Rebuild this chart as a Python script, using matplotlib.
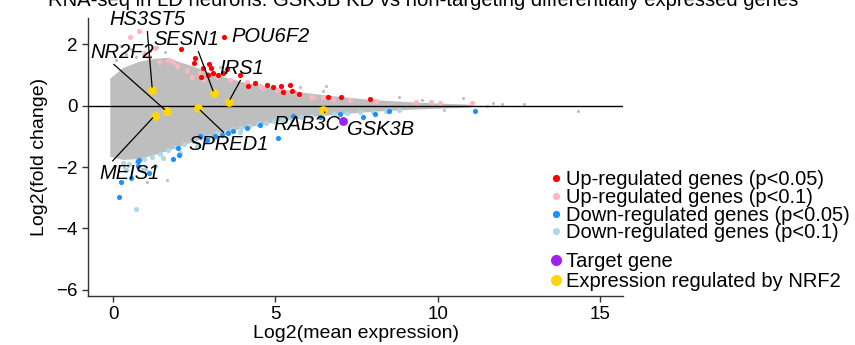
import matplotlib
matplotlib.use("Agg")

import matplotlib.pyplot as plt
from matplotlib.lines import Line2D

plt.rcParams["font.family"] = ["Liberation Sans", "DejaVu Sans"]

# --------------------------------------------------------------------------- #
# Data
# --------------------------------------------------------------------------- #

TITLE = "RNA-seq in LD neurons: GSK3B KD vs non-targeting differentially expressed genes"

# envelope of the dense grey cloud of non-significant genes
cloud_x = [-0.1, 0.3, 0.8, 1.3, 1.7, 2.0, 2.5, 3.0, 3.5, 4.0, 4.5, 5.0, 5.5,
           6.0, 6.5, 7.0, 7.5, 8.0, 8.5, 9.0, 9.5, 10.0, 10.5, 11.0]
cloud_top = [0.9, 1.25, 1.45, 1.55, 1.58, 1.45, 1.28, 1.08, 0.92, 0.78, 0.68,
             0.58, 0.5, 0.42, 0.36, 0.3, 0.25, 0.2, 0.17, 0.14, 0.11, 0.09,
             0.07, 0.05]
cloud_bot = [-1.65, -1.75, -1.72, -1.58, -1.45, -1.33, -1.15, -0.98, -0.85,
             -0.72, -0.62, -0.52, -0.44, -0.37, -0.31, -0.26, -0.22, -0.18,
             -0.15, -0.12, -0.1, -0.08, -0.06, -0.04]

# scattered grey genes outside the dense cloud
grey_x = [0.1, 0.25, 0.4, 0.55, 0.7, 0.95, 1.15, 1.35, 1.6, 1.06, 0.35, 0.9,
          1.66, 0.45, 2.5, 3.3, 5.75, 6.57, 6.46, 8.8, 9.5, 10.2, 10.78, 11.5,
          11.7, 11.97, 12.65, 14.3]
grey_y = [1.5, 1.95, 1.7, 1.85, 1.6, 1.75, 1.8, 1.9, 1.75, -2.48, -2.0, -2.05,
          -2.42, -1.95, 1.55, 1.25, 0.6, 0.63, 0.47, 0.3, 0.2, -0.15, 0.25, 0.0,
          0.09, 0.05, 0.06, -0.18]

# Up-regulated, p<0.05
up05_x = [2.1, 2.53, 2.49, 2.77, 2.92, 3.03, 3.23, 3.38, 2.72, 2.96, 3.09,
          3.5, 3.91, 4.15, 4.36, 4.73, 4.93, 5.16, 5.45, 5.5, 5.24, 5.73, 6.63,
          7.03, 7.91, 3.42]
up05_y = [1.84, 1.55, 1.38, 1.22, 1.0, 1.22, 1.0, 1.06, 0.95, 1.36, 1.08,
          1.19, 1.0, 0.63, 0.74, 0.68, 0.6, 0.63, 0.68, 0.49, 0.44, 0.39, 0.28,
          0.3, 0.23, 2.25]

# Up-regulated, p<0.1
up10_x = [0.52, 0.81, 0.95, 1.1, 1.29, 1.42, 1.7, 1.84, 1.96, 2.27, 2.42,
          2.68, 2.78, 3.19, 3.6, 4.11, 4.52, 4.62, 5.04, 5.55, 5.75, 6.11,
          6.16, 6.47, 6.78, 7.29, 8.11, 9.34, 9.8, 10.06, 11.04]
up10_y = [2.25, 2.45, 1.7, 1.6, 1.87, 1.44, 1.49, 1.44, 1.28, 1.17, 0.95,
          1.06, 0.84, 0.93, 0.84, 0.79, 0.65, 0.57, 0.52, 0.46, 0.36, 0.3,
          0.3, 0.3, 0.23, 0.19, 0.16, 0.12, 0.12, 0.09, 0.09]

# Down-regulated, p<0.05
dn05_x = [0.17, 0.24, 0.54, 0.76, 0.78, 0.81, 1.12, 1.86, 2.03, 2.01, 2.68,
          2.88, 3.14, 3.34, 3.55, 3.7, 4.11, 4.52, 5.09, 5.55, 6.37, 6.98,
          7.7, 8.06, 8.5, 11.14]
dn05_y = [-2.97, -2.48, -2.35, -1.95, -1.81, -1.78, -2.19, -1.72, -1.59,
          -1.37, -1.0, -1.1, -1.0, -0.94, -0.89, -0.83, -0.72, -0.62, -1.05,
          -0.35, -0.36, -0.27, -0.38, -0.27, -0.18, -0.18]

# Down-regulated, p<0.1
dn10_x = [0.3, 0.5, 0.75, 0.95, 1.2, 1.45, 1.7, 1.95, 2.2, 2.45, 2.7, 2.95,
          3.2, 3.45, 3.7, 3.95, 4.2, 4.45, 4.7, 4.95, 5.2, 5.5, 5.8, 6.1, 6.4,
          6.8, 7.2, 7.6, 8.0, 8.4, 8.8, 0.7, 1.3, 1.55, 2.05, 1.0, 0.4, 2.6,
          3.1, 3.9]
dn10_y = [-1.85, -1.9, -1.82, -1.75, -1.68, -1.58, -1.45, -1.35, -1.25,
          -1.15, -1.06, -0.98, -0.9, -0.84, -0.77, -0.71, -0.66, -0.6, -0.55,
          -0.5, -0.46, -0.42, -0.38, -0.34, -0.3, -0.27, -0.24, -0.21, -0.19,
          -0.17, -0.15, -3.35, -1.95, -1.7, -1.55, -2.05, -2.1, -1.3, -1.05,
          -0.85]

# target gene
target_name = "GSK3B"
target_x = 7.07
target_y = -0.49
target_label_xy = (8.22, -0.78)

# genes whose expression is regulated by NRF2, with their label positions
nrf2_names = ["HS3ST5", "NR2F2", "MEIS1", "SPRED1", "SESN1", "IRS1", "RAB3C"]
nrf2_x = [1.21, 1.65, 1.28, 2.62, 3.11, 3.56, 6.46]
nrf2_y = [0.52, -0.18, -0.33, -0.08, 0.40, 0.13, -0.13]
nrf2_label_x = [1.05, 0.28, 0.52, 3.57, 2.25, 3.97, 5.97]
nrf2_label_y = [2.82, 1.75, -2.2, -1.27, 2.17, 1.23, -0.62]
nrf2_relpos = [(0.5, 0), (0.32, 0), (0.17, 1), (0.47, 1), (0.67, 0),
               (0.5, 0), (0.8, 1)]

# labelled up gene with no leader line
extra_name = "POU6F2"
extra_label_xy = (3.63, 2.27)

# --------------------------------------------------------------------------- #
# Style
# --------------------------------------------------------------------------- #

_GREY = "#bebebe"
_RED = "#ff0000"
_PINK = "#ffb6c1"
_BLUE = "#1e90ff"
_LBLUE = "#add8e6"
_PURPLE = "#a020f0"
_GOLD = "#ffd700"
_AXIS = "#333333"

fig = plt.figure(figsize=(8.55, 3.45), dpi=100)
ax = fig.add_axes([88 / 855, 1 - 296 / 345, (623 - 88) / 855, (296 - 18) / 345])

ax.fill_between(cloud_x, cloud_bot, cloud_top, color=_GREY, linewidth=0, zorder=1)
ax.scatter(grey_x, grey_y, s=5, color=_GREY, linewidths=0, zorder=1)

ax.scatter(up10_x, up10_y, s=14, color=_PINK, linewidths=0, zorder=2)
ax.scatter(dn10_x, dn10_y, s=14, color=_LBLUE, linewidths=0, zorder=2)
ax.scatter(up05_x, up05_y, s=14, color=_RED, linewidths=0, zorder=3)
ax.scatter(dn05_x, dn05_y, s=14, color=_BLUE, linewidths=0, zorder=3)

ax.axhline(0, color="black", linewidth=1.0, zorder=4)

ax.scatter(nrf2_x, nrf2_y, s=40, color=_GOLD, linewidths=0, zorder=5)
ax.scatter([target_x], [target_y], s=40, color=_PURPLE, linewidths=0, zorder=5)

label_kw = dict(fontsize=14.5, style="italic", ha="center", va="center", zorder=6)
for name, px, py, lx, ly, rp in zip(nrf2_names, nrf2_x, nrf2_y,
                                     nrf2_label_x, nrf2_label_y, nrf2_relpos):
    ax.annotate(
        name, xy=(px, py), xytext=(lx, ly),
        arrowprops=dict(arrowstyle="-", color="black", linewidth=0.9,
                        shrinkA=0, shrinkB=2, relpos=rp),
        **label_kw,
    )
ax.text(*target_label_xy, target_name, **label_kw)
ax.text(*extra_label_xy, extra_name, fontsize=14.5, style="italic",
        ha="left", va="center", zorder=6)

ax.set_xlim(-0.77, 15.7)
ax.set_ylim(-6.2, 2.86)
ax.set_xticks([0, 5, 10, 15])
ax.set_yticks([-6, -4, -2, 0, 2])
ax.tick_params(labelsize=13.5, colors=_AXIS, labelcolor="black", length=4,
               width=1)
for side in ("top", "right"):
    ax.spines[side].set_visible(False)
for side in ("left", "bottom"):
    ax.spines[side].set_color(_AXIS)
    ax.spines[side].set_linewidth(1.0)

ax.set_xlabel("Log2(mean expression)", fontsize=14, labelpad=1)
ax.set_ylabel("Log2(fold change)", fontsize=14, labelpad=6)

# the title sits partly above the top edge of the image, as in the source
fig.text(0.495, 1 - 6 / 345, TITLE, fontsize=14.6, ha="center", va="baseline")

# legends: significance classes, then highlighted genes
sig_handles = [
    Line2D([], [], marker="o", linestyle="", color=c, markersize=4.2)
    for c in (_RED, _PINK, _BLUE, _LBLUE)
]
sig_labels = ["Up-regulated genes (p<0.05)", "Up-regulated genes (p<0.1)",
              "Down-regulated genes (p<0.05)", "Down-regulated genes (p<0.1)"]
leg_kw = dict(loc="upper left", bbox_transform=fig.transFigure, frameon=False,
              fontsize=14.5, handlelength=0.48, handletextpad=0.28, borderpad=0,
              borderaxespad=0, labelspacing=-0.06)
leg1 = ax.legend(sig_handles, sig_labels,
                 bbox_to_anchor=(551 / 855, 1 - 170 / 345), **leg_kw)
ax.add_artist(leg1)

hl_handles = [
    Line2D([], [], marker="o", linestyle="", color=c, markersize=7)
    for c in (_PURPLE, _GOLD)
]
ax.legend(hl_handles, ["Target gene", "Expression regulated by NRF2"],
          bbox_to_anchor=(551 / 855, 1 - 252 / 345),
          **{**leg_kw, "labelspacing": 0.05})

fig.savefig("out.png", dpi=100)
